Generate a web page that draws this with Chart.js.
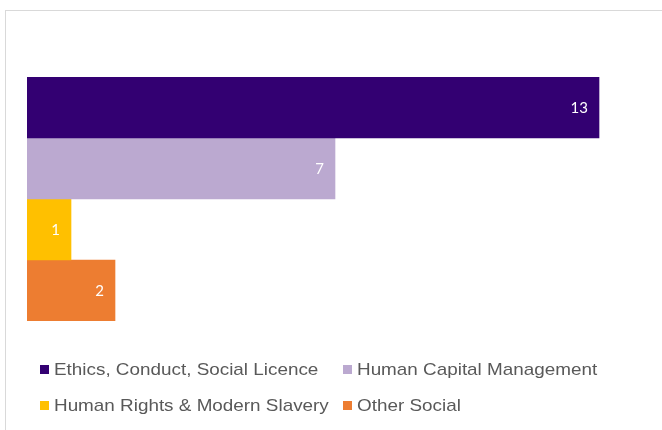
<!DOCTYPE html>
<html>
<head>
<meta charset="utf-8">
<script src="https://cdn.jsdelivr.net/npm/chart.js@4"></script>
<style>
  html, body { margin: 0; padding: 0; background: #fff; }
  #wrap { position: relative; width: 662px; height: 430px; overflow: hidden; }
  #frame { position: absolute; left: 5px; top: 10px; width: 700px; height: 500px;
           border-left: 1px solid #d9d9d9; border-top: 1px solid #d9d9d9; }
  #c { position: absolute; left: 0; top: 0; }
  .lg { position: absolute; font-family: "Liberation Sans", Arial, sans-serif; font-size: 17px;
        color: #595959; white-space: nowrap; line-height: 20px; }
  .lg i { display: inline-block; width: 9px; height: 9px; position: absolute; left: 0; top: 5px; }
  .lg span { position: absolute; left: 14px; top: 0; transform: scaleX(1.11); transform-origin: 0 50%; }
</style>
</head>
<body>
<div id="wrap">
  <div id="frame"></div>
  <canvas id="c" width="662" height="430"></canvas>
  <div id="legend"></div>
</div>
<script>
const categories = [""];
const seriesNames = [
  "Ethics, Conduct, Social Licence",
  "Human Capital Management",
  "Human Rights & Modern Slavery",
  "Other Social"
];
const ethicsValues = [13];
const humanCapitalValues = [7];
const humanRightsValues = [1];
const otherSocialValues = [2];
const seriesColors = ["#330072", "#BBA9D0", "#FFC000", "#ED7D31"];

const seriesValues = [ethicsValues, humanCapitalValues, humanRightsValues, otherSocialValues];

const labelPlugin = {
  id: "barLabels",
  afterDatasetsDraw(chart) {
    const ctx = chart.ctx;
    ctx.save();
    ctx.fillStyle = "#ffffff";
    ctx.font = "15px Lato, 'Open Sans', sans-serif";
    ctx.textAlign = "right";
    ctx.textBaseline = "middle";
    chart.data.datasets.forEach((ds, i) => {
      const meta = chart.getDatasetMeta(i);
      meta.data.forEach((el, j) => {
        ctx.fillText(String(ds.data[j]), el.x - 11, el.y + 1);
      });
    });
    ctx.restore();
  }
};

const chart = new Chart(document.getElementById("c"), {
  type: "bar",
  data: {
    labels: categories,
    datasets: seriesNames.map((n, i) => ({
      label: n,
      data: seriesValues[i],
      backgroundColor: seriesColors[i],
      borderWidth: 0,
      categoryPercentage: 1,
      barPercentage: 1
    }))
  },
  options: {
    indexAxis: "y",
    responsive: false,
    animation: false,
    layout: { padding: { left: 27, top: 77, right: 19, bottom: 109 } },
    plugins: { legend: { display: false }, tooltip: { enabled: false } },
    scales: {
      x: { display: false, min: 0, max: 14 },
      y: { display: false }
    }
  },
  plugins: [labelPlugin]
});

// Legend laid out in two columns, like the original
const legend = document.getElementById("legend");
const colX = [40, 343];
const rowY = [360, 396];
seriesNames.forEach((n, i) => {
  const d = document.createElement("div");
  d.className = "lg";
  d.style.left = colX[i % 2] + "px";
  d.style.top = rowY[Math.floor(i / 2)] + "px";
  d.innerHTML = '<i style="background:' + seriesColors[i] + '"></i><span></span>';
  d.querySelector("span").textContent = n;
  legend.appendChild(d);
});
</script>
</body>
</html>
